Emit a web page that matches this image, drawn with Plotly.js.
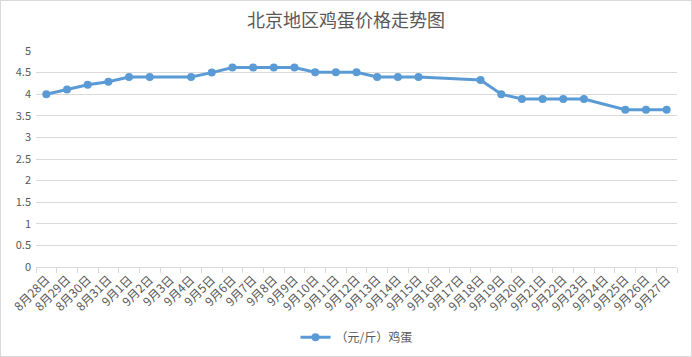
<!DOCTYPE html>
<html>
<head>
<meta charset="utf-8">
<script src="https://cdn.plot.ly/plotly-3.0.1.min.js"></script>
<style>
html,body{margin:0;padding:0;background:#fff;}
#chart{width:690px;height:355px;border:1px solid #d9d9d9;}
</style>
</head>
<body>
<div id="chart"></div>
<script>
const dates = ["8月28日","8月29日","8月30日","8月31日","9月1日","9月2日","9月3日","9月4日","9月5日","9月6日","9月7日","9月8日","9月9日","9月10日","9月11日","9月12日","9月13日","9月14日","9月15日","9月16日","9月17日","9月18日","9月19日","9月20日","9月21日","9月22日","9月23日","9月24日","9月25日","9月26日","9月27日"];
const prices = [4.00,4.11,4.22,4.29,4.40,4.40,null,4.40,4.50,4.62,4.62,4.62,4.62,4.51,4.51,4.51,4.40,4.40,4.40,null,null,4.33,4.00,3.89,3.89,3.89,3.89,null,3.64,3.64,3.64];
const seriesName = "（元/斤）鸡蛋";
const chartTitle = "北京地区鸡蛋价格走势图";

const font = "'Noto Sans CJK SC', 'Noto Sans', sans-serif";
Plotly.newPlot("chart", [{
  x: dates, y: prices, name: seriesName, type: "scatter", mode: "lines+markers",
  connectgaps: true,
  line: {color: "#5b9bd5", width: 3},
  marker: {color: "#5b9bd5", size: 8}
}], {
  width: 690, height: 355,
  margin: {l: 35, r: 14, t: 50, b: 89, autoexpand: false},
  paper_bgcolor: "#fff", plot_bgcolor: "#fff",
  font: {family: font, color: "#595959", size: 11},
  title: {text: chartTitle, x: 0.5, xanchor: "center", y: 0.945, yanchor: "middle", font: {family: font, size: 18, color: "#595959"}},
  xaxis: {type: "category", range: [-0.5, dates.length - 0.5], autorange: false, automargin: false, tickangle: -45, tickson: "boundaries", ticks: "outside", ticklen: 5, tickcolor: "#d9d9d9",
          showline: true, linecolor: "#d9d9d9", showgrid: false, zeroline: false,
          tickfont: {size: 12, color: "#595959"}, fixedrange: true},
  yaxis: {range: [0, 5], dtick: 0.5, automargin: false, showgrid: true, gridcolor: "#d9d9d9", zeroline: false, showline: false,
          tickfont: {size: 11, color: "#595959"}, ticklabelstandoff: 4},
  showlegend: true,
  legend: {orientation: "h", x: 0.5, xanchor: "center", y: -0.325, yanchor: "middle", font: {size: 12, color: "#595959"}}
}, {displayModeBar: false, staticPlot: true});
</script>
</body>
</html>
